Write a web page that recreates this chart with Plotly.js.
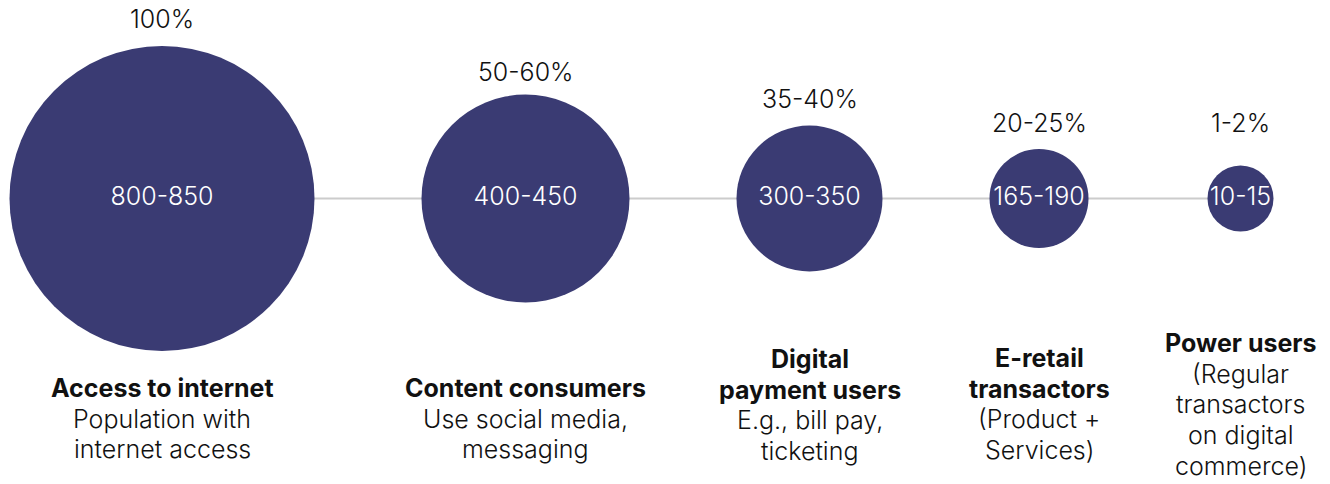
<!DOCTYPE html>
<html><head><meta charset="utf-8">
<script src="https://cdn.plot.ly/plotly-3.0.1.min.js"></script>
<style>html,body{margin:0;padding:0;background:#fff;} #chart{width:1330px;height:484px;}</style>
</head><body><div id="chart"></div>
<script>
// ---- data ----
const stages = ["Access to internet", "Content consumers", "Digital<br>payment users", "E-retail<br>transactors", "Power users"];
const descriptions = ["Population with<br>internet access", "Use social media,<br>messaging", "E.g., bill pay,<br>ticketing", "(Product +<br>Services)", "(Regular<br>transactors<br>on digital<br>commerce)"];
const userRanges = ["800-850", "400-450", "300-350", "165-190", "10-15"];
const shareRanges = ["100%", "50-60%", "35-40%", "20-25%", "1-2%"];

// ---- layout / style config ----
const W = 1330, H = 484;
const diameters = [305, 208, 146, 99, 66];
const gaps = [107, 107, 107, 119];
const leftEdge = 9.5;
const axisPixelY = 198.5;
const sharePixelY = [19, 72, 99, 123, 123];
const firstLinePixelY = [388, 388, 359, 358, 343];
const lineStep = 30.7;
const bubbleColor = "#3a3b73";
const fontFamily = "Inter, 'Noto Sans', sans-serif";
const fontSize = 25;

const centers = [];
let edge = leftEdge;
diameters.forEach((d, i) => {
  centers.push(edge + d / 2);
  edge += d + (i < gaps.length ? gaps[i] : 0);
});
const toY = py => axisPixelY - py;

const lineTrace = {
  x: [centers[0], centers[centers.length - 1]],
  y: [0, 0],
  mode: "lines",
  line: {color: "#cccccc", width: 2},
  hoverinfo: "skip"
};
const bubbleTrace = {
  x: centers,
  y: centers.map(() => 0),
  mode: "markers+text",
  text: userRanges,
  textposition: "middle center",
  textfont: {family: fontFamily, size: fontSize, color: "#ffffff", weight: 300},
  marker: {size: diameters, color: bubbleColor, opacity: 1, line: {width: 0}},
  hoverinfo: "skip"
};

const annotations = [];
centers.forEach((cx, i) => {
  annotations.push({
    x: cx, y: toY(sharePixelY[i]), xref: "x", yref: "y",
    text: shareRanges[i], showarrow: false, xanchor: "center", yanchor: "middle",
    font: {family: fontFamily, size: fontSize, color: "#111111", weight: 300}
  });
  const lines = stages[i].split("<br>").map(t => "<b>" + t + "</b>")
    .concat(descriptions[i].split("<br>"));
  lines.forEach((t, k) => {
    annotations.push({
      x: cx, y: toY(firstLinePixelY[i] + k * lineStep), xref: "x", yref: "y",
      text: t, showarrow: false, xanchor: "center", yanchor: "middle",
      font: {family: fontFamily, size: fontSize, color: "#111111", weight: 300}
    });
  });
});

const layout = {
  width: W, height: H,
  margin: {l: 0, r: 0, t: 0, b: 0},
  paper_bgcolor: "#ffffff", plot_bgcolor: "#ffffff",
  showlegend: false,
  xaxis: {range: [0, W], visible: false, fixedrange: true},
  yaxis: {range: [axisPixelY - H, axisPixelY], visible: false, fixedrange: true},
  annotations: annotations
};

Plotly.newPlot("chart", [lineTrace, bubbleTrace], layout, {displayModeBar: false, staticPlot: true});
</script>
</body></html>
